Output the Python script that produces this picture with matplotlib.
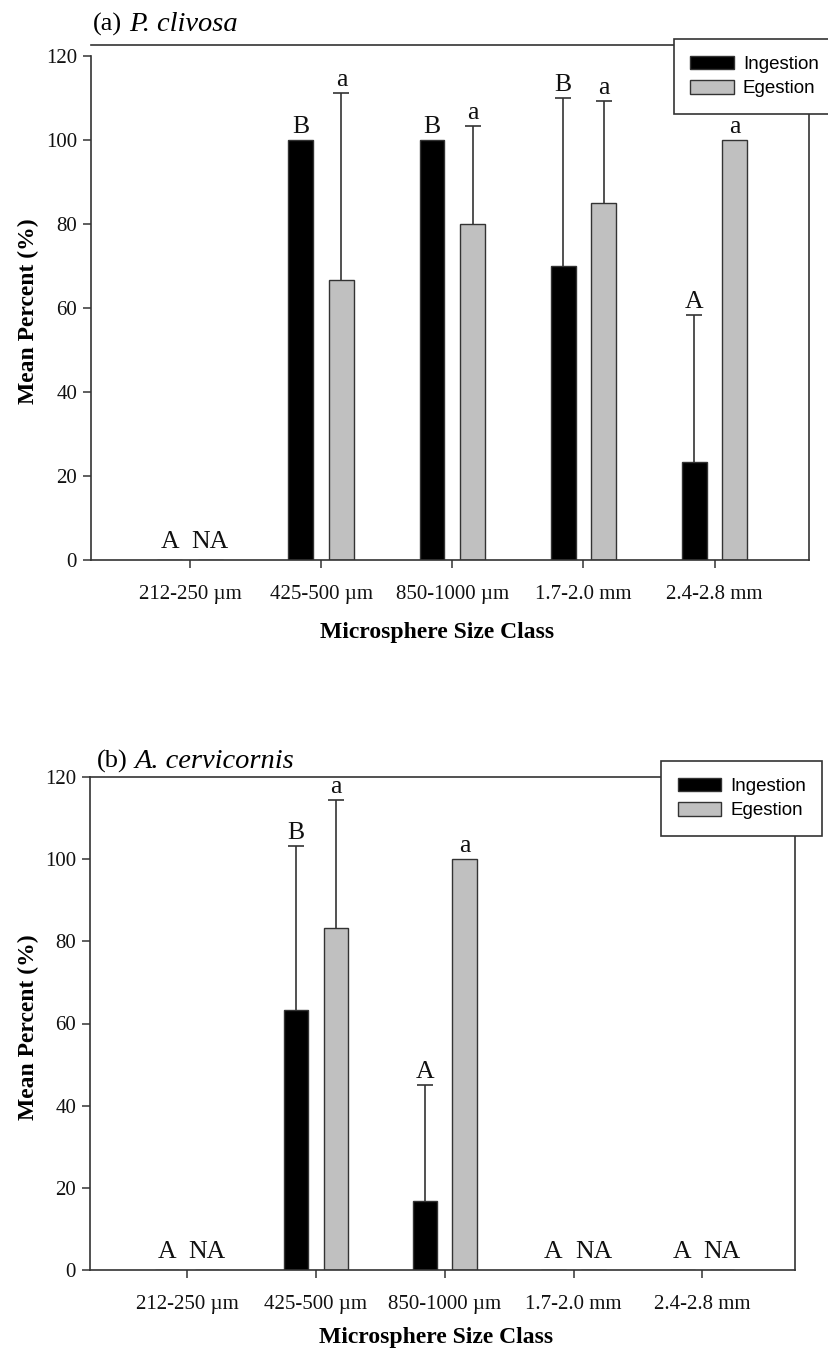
import numpy as np
import matplotlib
matplotlib.use("Agg")
import matplotlib.pyplot as plt
from matplotlib.patches import Patch

plt.rcParams['font.family'] = ['Liberation Serif', 'DejaVu Serif']

categories = ['212-250 µm', '425-500 µm', '850-1000 µm', '1.7-2.0 mm', '2.4-2.8 mm']
series = ['Ingestion', 'Egestion']

a_ing = [0, 100, 100, 70, 23.3]
a_ing_err = [0, 0, 0, 40, 35]
a_egs = [np.nan, 66.7, 80, 85, 100]
a_egs_err = [0, 44.4, 23.3, 24.3, 0]
a_ing_letters = ['A', 'B', 'B', 'B', 'A']
a_egs_letters = ['NA', 'a', 'a', 'a', 'a']

b_ing = [0, 63.3, 16.7, 0, 0]
b_ing_err = [0, 40, 28.3, 0, 0]
b_egs = [np.nan, 83.3, 100, np.nan, np.nan]
b_egs_err = [0, 31, 0, 0, 0]
b_ing_letters = ['A', 'B', 'A', 'A', 'A']
b_egs_letters = ['NA', 'a', 'a', 'NA', 'NA']

W, H = 829, 1353
fig = plt.figure(figsize=(W / 100, H / 100), dpi=100)
renderer = fig.canvas.get_renderer()

EDGE = '#333333'
ING_C = 'black'
EGS_C = '#c0c0c0'


def panel(rect, ing, ing_err, egs, egs_err, ing_let, egs_let, ytop, title_lab, title_sp,
          title_xy, leg_xy, xlab_cx, xlab_dy, ylab_fy):
    ax = fig.add_axes(rect)
    x = np.arange(len(categories))
    off = 0.155
    wid = 0.19
    ing = np.array(ing, float)
    egs = np.array(egs, float)
    ax.bar(x - off, np.nan_to_num(ing), wid, color=ING_C, edgecolor=EDGE, linewidth=1.0, zorder=2)
    ax.bar(x + off, np.nan_to_num(egs), wid, color=EGS_C, edgecolor=EDGE, linewidth=1.0, zorder=2)
    for xs, vals, errs in [(x - off, ing, ing_err), (x + off, egs, egs_err)]:
        errs = np.array(errs, float)
        m = errs > 0
        if m.any():
            cont = ax.errorbar(xs[m], vals[m], yerr=[np.zeros(m.sum()), errs[m]], fmt='none',
                               ecolor=EDGE, elinewidth=1.2, capsize=6, capthick=1.2, zorder=1)
            caps = cont.lines[1]
            if len(caps) == 2:
                caps[0].set_visible(False)
    for xs, vals, errs, lets in [(x - off, ing, ing_err, ing_let), (x + off, egs, egs_err, egs_let)]:
        for xi, v, e, t in zip(xs, vals, errs, lets):
            if np.isnan(v) or v == 0:
                top = 0
                dy = 5
            else:
                top = v + e
                dy = 1.5
            ax.annotate(t, (xi, top), xytext=(0, dy), textcoords='offset points',
                        ha='center', va='bottom', fontsize=18.5, color='#111111')
    ax.set_xlim(-0.755, 4.72)
    ax.set_ylim(0, ytop)
    ax.set_yticks(np.arange(0, 121, 20))
    ax.set_xticks(x)
    ax.set_xticklabels(categories)
    ax.tick_params(axis='both', direction='out', length=6, width=1.1, color=EDGE, labelsize=15,
                   labelcolor='#111111', pad=4)
    ax.tick_params(axis='x', pad=12)
    for s in ax.spines.values():
        s.set_color(EDGE)
        s.set_linewidth(1.2)
    ax.spines['left'].set_bounds(0, 120)

    pos = ax.get_position()
    axw = pos.width * W
    axh = pos.height * H
    ax.set_xlabel('Microsphere Size Class', fontsize=17, fontweight='bold')
    ax.xaxis.set_label_coords((xlab_cx - pos.x0 * W) / axw, -xlab_dy / axh)
    ax.xaxis.label.set_va('center')
    ax.set_ylabel('Mean Percent (%)', fontsize=17, fontweight='bold')
    ax.yaxis.set_label_coords(-(pos.x0 * W - 28) / axw, ylab_fy)
    ax.yaxis.label.set_va('center')

    t1 = fig.text(title_xy[0] / W, 1 - title_xy[1] / H, title_lab, fontsize=19,
                  ha='left', va='baseline')
    ext = t1.get_window_extent(renderer)
    fig.text((ext.x1 + 7) / W, 1 - title_xy[1] / H, title_sp, fontsize=20.5,
             fontstyle='italic', ha='left', va='baseline')

    handles = [Patch(facecolor=ING_C, edgecolor=EDGE, linewidth=1),
               Patch(facecolor=EGS_C, edgecolor=EDGE, linewidth=1)]
    leg = fig.legend(handles, series, loc='upper left',
                     bbox_to_anchor=(leg_xy[0] / W, 1 - leg_xy[1] / H),
                     prop={'family': 'Liberation Sans', 'size': 13.5},
                     frameon=True, fancybox=False, edgecolor=EDGE, framealpha=1,
                     handlelength=2.3, handleheight=0.75, handletextpad=0.5,
                     labelspacing=0.38, borderpad=0.88, borderaxespad=0)
    leg.get_frame().set_linewidth(1.2)
    leg.set_zorder(10)
    return ax


top_rect = [91 / W, 1 - 560 / H, (809 - 91) / W, (560 - 45) / H]
panel(top_rect, a_ing, a_ing_err, a_egs, a_egs_err, a_ing_letters, a_egs_letters,
      122.6, '(a)', 'P. clivosa', (93, 31), (674, 39), 437, 73, 0.483)

bot_rect = [90 / W, 1 - 1270 / H, (795 - 90) / W, (1270 - 777) / H]
panel(bot_rect, b_ing, b_ing_err, b_egs, b_egs_err, b_ing_letters, b_egs_letters,
      120, '(b)', 'A. cervicornis', (97, 768), (661, 761), 436, 67, 0.493)

fig.savefig('out.png', dpi=100, facecolor='white')
